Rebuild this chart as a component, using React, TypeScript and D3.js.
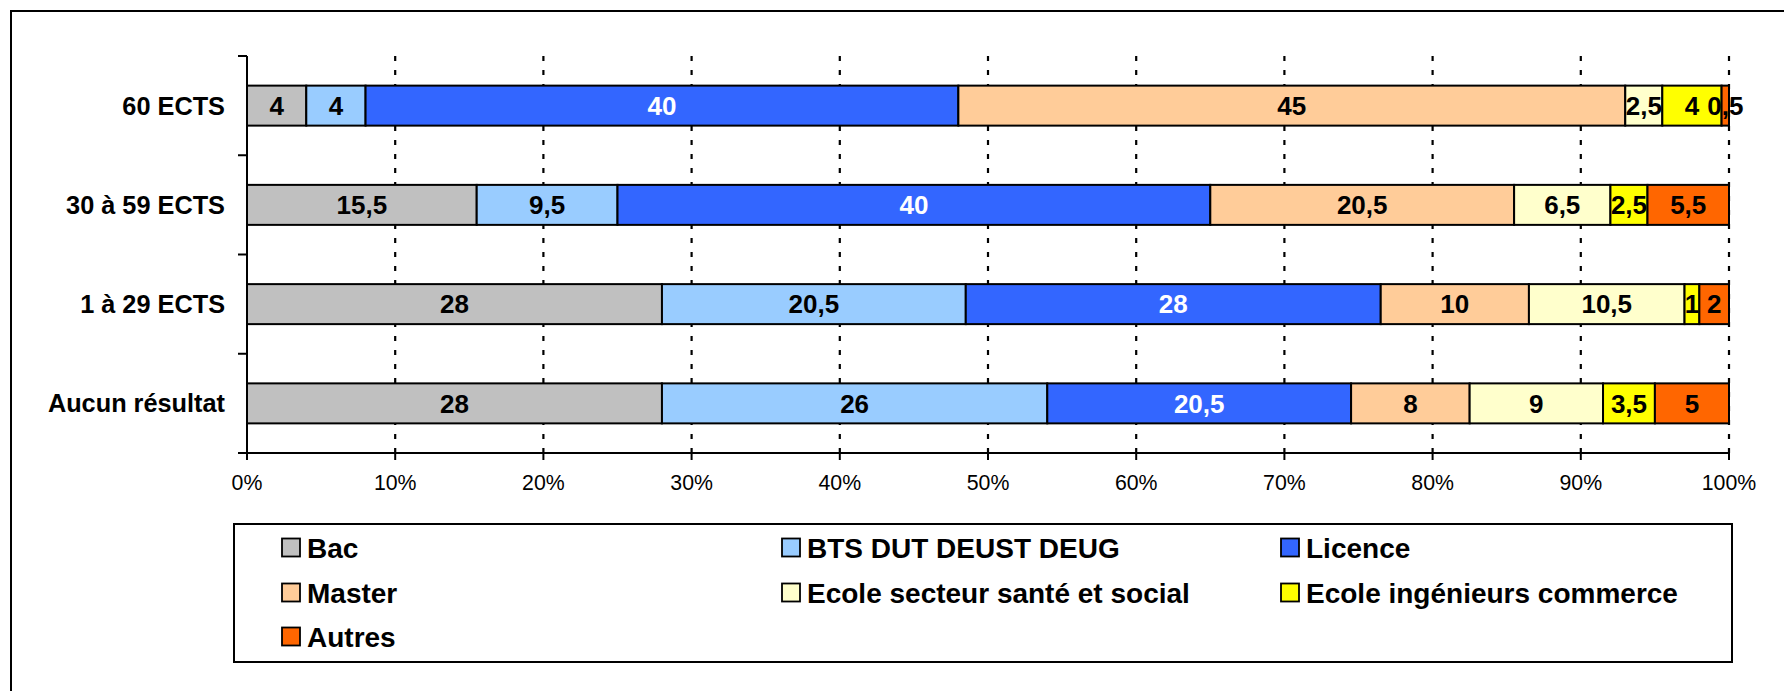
import React from 'react';
import * as d3 from 'd3';

const categories = ['60 ECTS', '30 à 59 ECTS', '1 à 29 ECTS', 'Aucun résultat'];
const seriesNames = [
  'Bac',
  'BTS DUT DEUST DEUG',
  'Licence',
  'Master',
  'Ecole secteur santé et social',
  'Ecole ingénieurs commerce',
  'Autres',
];
const bac = [4, 15.5, 28, 28];
const bts = [4, 9.5, 20.5, 26];
const licence = [40, 40, 28, 20.5];
const master = [45, 20.5, 10, 8];
const sante = [2.5, 6.5, 10.5, 9];
const ingenieurs = [4, 2.5, 1, 3.5];
const autres = [0.5, 5.5, 2, 5];
const seriesColors = ['#C0C0C0', '#99CCFF', '#3366FF', '#FFCC99', '#FFFFCC', '#FFFF00', '#FF6600'];
const labelColors = ['#000', '#000', '#fff', '#000', '#000', '#000', '#000'];
const xTickValues = [0, 10, 20, 30, 40, 50, 60, 70, 80, 90, 100];

const W = 1784;
const H = 691;
const FONT = '"Liberation Sans", Arial, sans-serif';

export default function App() {
  const seriesValues = [bac, bts, licence, master, sante, ingenieurs, autres];

  // one row per category, keyed by series name
  const rows = categories.map((c, i) => {
    const r: Record<string, any> = { cat: c };
    seriesNames.forEach((s, j) => (r[s] = seriesValues[j][i]));
    return r;
  });
  const stacked = d3.stack<any>().keys(seriesNames)(rows);

  const x = d3.scaleLinear().domain([0, 100]).range([247, 1729]);
  const y = d3.scaleBand<string>()
    .domain(categories)
    .range([56, 453])
    .paddingInner(0.597)
    .paddingOuter(0.2985);

  const step = y.step();
  const y0 = y.range()[0];
  const y1 = y.range()[1];
  const fmt = (v: number) => String(v).replace('.', ',');

  // legend layout (3 columns, row-major)
  const legendCols = [282, 782, 1281];
  const legendRows = [547.5, 592.5, 636.5];

  return (
    <div style={{ position: 'absolute', left: 0, top: 0, width: W, height: H, background: '#fff' }}>
      <svg width={W} height={H} style={{ display: 'block' }} fontFamily={FONT}>
        {/* outer frame */}
        <rect x={11} y={11} width={W + 20} height={H + 20} fill="none" stroke="#000" strokeWidth={2} />

        {/* dotted gridlines */}
        {xTickValues.filter(v => v > 0).map(v => (
          <line key={'g' + v} x1={x(v)} x2={x(v)} y1={y0} y2={y1}
            stroke="#000" strokeWidth={2.2} strokeDasharray="5 9" />
        ))}

        {/* bars */}
        {stacked.map((s, j) => (
          <g key={s.key}>
            {s.map((d, i) => (
              <rect key={i}
                x={x(d[0])}
                y={y(categories[i])}
                width={x(d[1]) - x(d[0])}
                height={y.bandwidth()}
                fill={seriesColors[j]}
                stroke="#000"
                strokeWidth={2}
              />
            ))}
          </g>
        ))}

        {/* bar value labels */}
        {stacked.map((s, j) => (
          <g key={'l' + s.key}>
            {s.map((d, i) => (
              <text key={i}
                x={(x(d[0]) + x(d[1])) / 2}
                y={(y(categories[i]) as number) + y.bandwidth() / 2}
                dy="0.36em"
                textAnchor="middle"
                fontSize={26}
                fontWeight="bold"
                fill={labelColors[j]}>
                {fmt(seriesValues[j][i])}
              </text>
            ))}
          </g>
        ))}

        {/* y axis */}
        <line x1={x(0)} x2={x(0)} y1={y0} y2={y1} stroke="#000" strokeWidth={2} />
        {d3.range(categories.length + 1).map(i => (
          <line key={'yt' + i} x1={x(0) - 9} x2={x(0)} y1={y0 + i * step} y2={y0 + i * step}
            stroke="#000" strokeWidth={2} />
        ))}
        {categories.map(c => (
          <text key={c} x={225} y={(y(c) as number) + y.bandwidth() / 2} dy="0.36em"
            textAnchor="end" fontSize={25.3} fontWeight="bold" fill="#000">
            {c}
          </text>
        ))}

        {/* x axis */}
        <line x1={x(0) - 9} x2={x(100)} y1={y1} y2={y1} stroke="#000" strokeWidth={2} />
        {xTickValues.map(v => (
          <g key={'xt' + v}>
            <line x1={x(v)} x2={x(v)} y1={y1} y2={y1 + 7} stroke="#000" strokeWidth={2} />
            <text x={x(v)} y={482} dy="0.36em" textAnchor="middle" fontSize={21.3} fill="#000">
              {v + '%'}
            </text>
          </g>
        ))}

        {/* legend */}
        <rect x={234} y={524} width={1498} height={138} fill="#fff" stroke="#000" strokeWidth={2} />
        {seriesNames.map((s, j) => {
          const lx = legendCols[j % 3];
          const ly = legendRows[Math.floor(j / 3)];
          return (
            <g key={'lg' + s}>
              <rect x={lx} y={ly - 9} width={18} height={18} fill={seriesColors[j]} stroke="#000" strokeWidth={1.8} />
              <text x={lx + 25} y={ly} dy="0.36em" fontSize={28} fontWeight="bold" fill="#000">
                {s}
              </text>
            </g>
          );
        })}
      </svg>
    </div>
  );
}
